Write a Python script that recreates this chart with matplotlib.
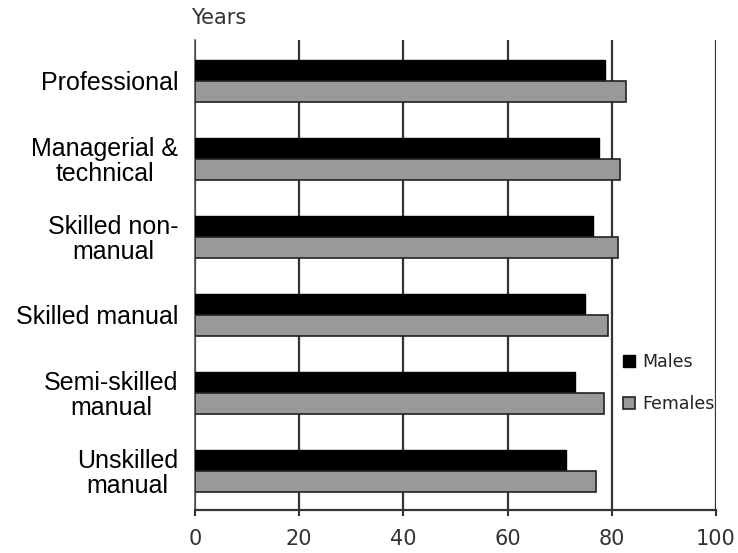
import matplotlib
matplotlib.use('Agg')
import matplotlib.pyplot as plt
import numpy as np

# life expectancy by social class
categories = ['Professional', 'Managerial &\ntechnical', 'Skilled non-\nmanual',
              'Skilled manual', 'Semi-skilled\nmanual', 'Unskilled\nmanual']
males = [78.6, 77.5, 76.3, 74.8, 72.9, 71.3]
females = [82.7, 81.5, 81.1, 79.2, 78.5, 77.0]
xticks = [0, 20, 40, 60, 80, 100]

fig = plt.figure(figsize=(7.38, 5.53), dpi=100)
ax = fig.add_axes([195/738, 1 - 510/553, 521/738, 470/553])

y = np.arange(len(categories))
h = 0.27
ax.barh(y - h/2, males, height=h, color='black', edgecolor='black',
        linewidth=1.0, label='Males', zorder=3)
ax.barh(y + h/2, females, height=h, color='#999999', edgecolor='#222222',
        linewidth=1.2, label='Females', zorder=3)

ax.set_xlim(0, 100)
ax.set_ylim(5.50, -0.52)

# vertical gridlines, drawn under the bars
ax.set_axisbelow(True)
ax.set_xticks(xticks)
ax.set_xticklabels([str(t) for t in xticks], fontsize=15,
                   family='DejaVu Sans', color='#333333')
ax.xaxis.grid(True, color='#333333', linewidth=1.6)
ax.tick_params(axis='x', direction='out', length=4, width=1.5,
               color='#333333', pad=10)

ax.set_yticks(y)
ax.set_yticklabels(categories, fontsize=18, family='Liberation Sans',
                   multialignment='center', linespacing=1.05)
ax.tick_params(axis='y', length=0, pad=12)

for s in ['top', 'right']:
    ax.spines[s].set_visible(False)
ax.spines['bottom'].set_color('#333333')
ax.spines['bottom'].set_linewidth(1.6)
ax.spines['left'].set_color('#555555')
ax.spines['left'].set_linewidth(1.2)

fig.text(191/738, 1 - 18/553, 'Years', fontsize=15, family='DejaVu Sans',
         color='#333333', va='center', ha='left')

leg = ax.legend(loc='center left', bbox_to_anchor=(0.822, 0.27), frameon=False,
                handlelength=0.7, handleheight=0.7,
                handletextpad=0.4, labelspacing=1.35, borderpad=0,
                borderaxespad=0, prop={'family': 'DejaVu Sans', 'size': 12.5})
for t in leg.get_texts():
    t.set_color('#222222')

plt.savefig('out.png', dpi=100)
